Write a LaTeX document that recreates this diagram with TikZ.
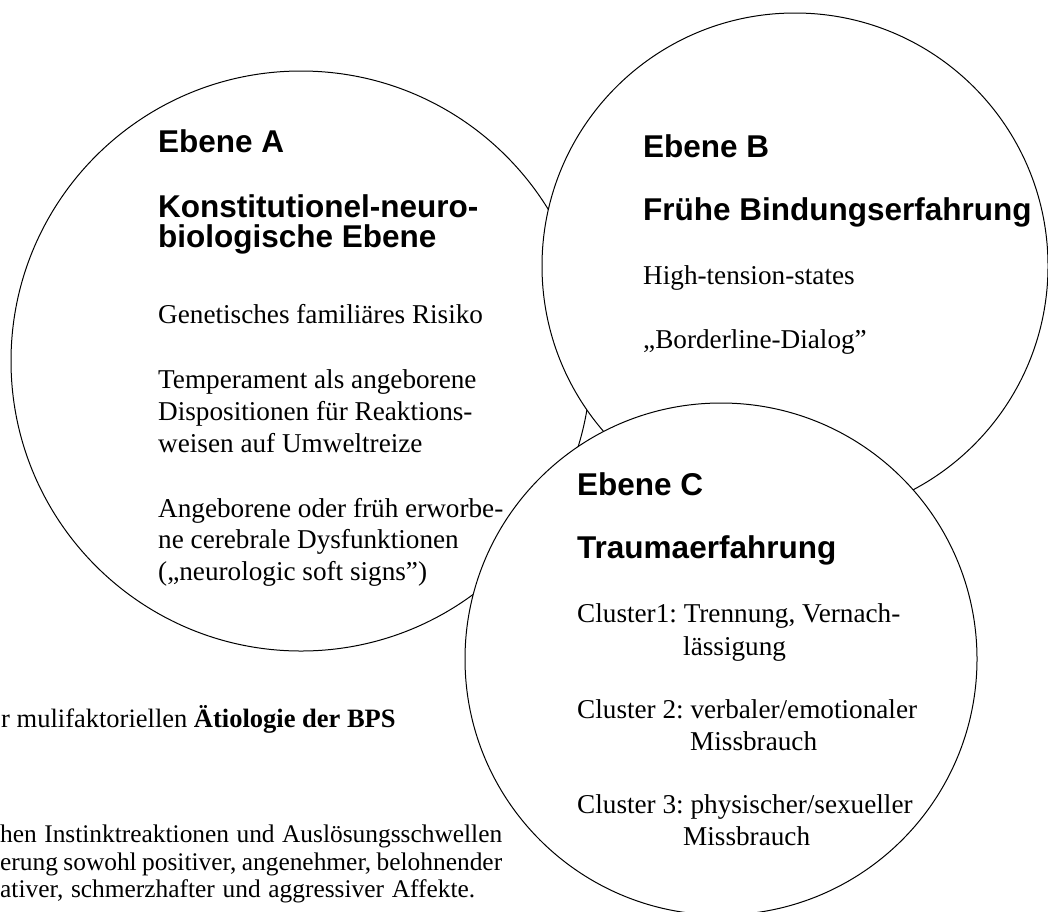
\documentclass[tikz,border=0pt]{standalone}
\usepackage{fontspec}
\setmainfont{Liberation Serif}
\newfontfamily\headfont{Liberation Sans}
\frenchspacing
\tikzset{
  ebene/.style={circle, draw, fill=white, line width=1pt, inner sep=0pt},
  head/.style={anchor=base west, inner sep=0pt, font=\headfont\bfseries\fontsize{31.5}{30}\selectfont},
  body/.style={anchor=base west, inner sep=0pt, font=\fontsize{27.2}{32}\selectfont},
  unterschrift/.style={anchor=base west, inner sep=0pt, font=\fontsize{25.4}{28}\selectfont}
}
\begin{document}
\begin{tikzpicture}[x=1pt, y=-1pt]
\useasboundingbox (0,0) rectangle (1048,911);
\clip (0,0) rectangle (1048,911);
%% Ebene A
\node[ebene, minimum size=580pt] (kreisA) at (301,361) {};
\node[head] (kopfA1) at (158,152) {Ebene A};
\node[head] (kopfA2) at (158,217) {Konstitutionel-neuro-};
\node[head] (kopfA3) at (158,247) {biologische Ebene};
\foreach \y/\t in {323/Genetisches familiäres Risiko, 388/Temperament als angeborene,
  420/Dispositionen für Reaktions-, 452/weisen auf Umweltreize,
  517/Angeborene oder früh erworbe-, 548/ne cerebrale Dysfunktionen,
  580/(„neurologic soft signs”)}{
  \node[body] (textA\y) at (158,\y) {\t};
}
%% Ebene B
\node[ebene, minimum size=506pt] (kreisB) at (795,266) {};
\node[head] (kopfB1) at (643,157) {Ebene B};
\node[head] (kopfB2) at (643,220) {Frühe Bindungserfahrung};
\node[body] (textB1) at (643,284) {High-tension-states};
\node[body] (textB2) at (643,348) {„Borderline-Dialog”};
%% Ebene C
\node[ebene, minimum size=512pt] (kreisC) at (721,659) {};
\node[head] (kopfC1) at (577,495) {Ebene C};
\node[head] (kopfC2) at (577,558) {Traumaerfahrung};
\foreach \y/\x/\t in {622/577/{Cluster1: Trennung, Vernach-}, 655/683/{lässigung},
  718/577/{Cluster 2: verbaler/emotionaler}, 750/690/{Missbrauch},
  813/577/{Cluster 3: physischer/sexueller}, 845/683/{Missbrauch}}{
  \node[body] (textC\y) at (\x,\y) {\t};
}
%% Bildunterschrift (links abgeschnitten)
\node[unterschrift, font=\fontsize{26.5}{28}\selectfont] (titel) at (1,727) {r mulifaktoriellen \textbf{Ätiologie der BPS}};
\node[unterschrift] (zeile1) at (0,842) {\makebox[502pt][s]{hen Instinktreaktionen und Auslösungsschwellen}};
\node[unterschrift] (zeile2) at (0,870) {\makebox[502pt][s]{erung sowohl positiver, angenehmer, belohnender}};
\node[unterschrift] (zeile3) at (0,897) {\makebox[475pt][s]{ativer, schmerzhafter und aggressiver Affekte.}};
\end{tikzpicture}
\end{document}
